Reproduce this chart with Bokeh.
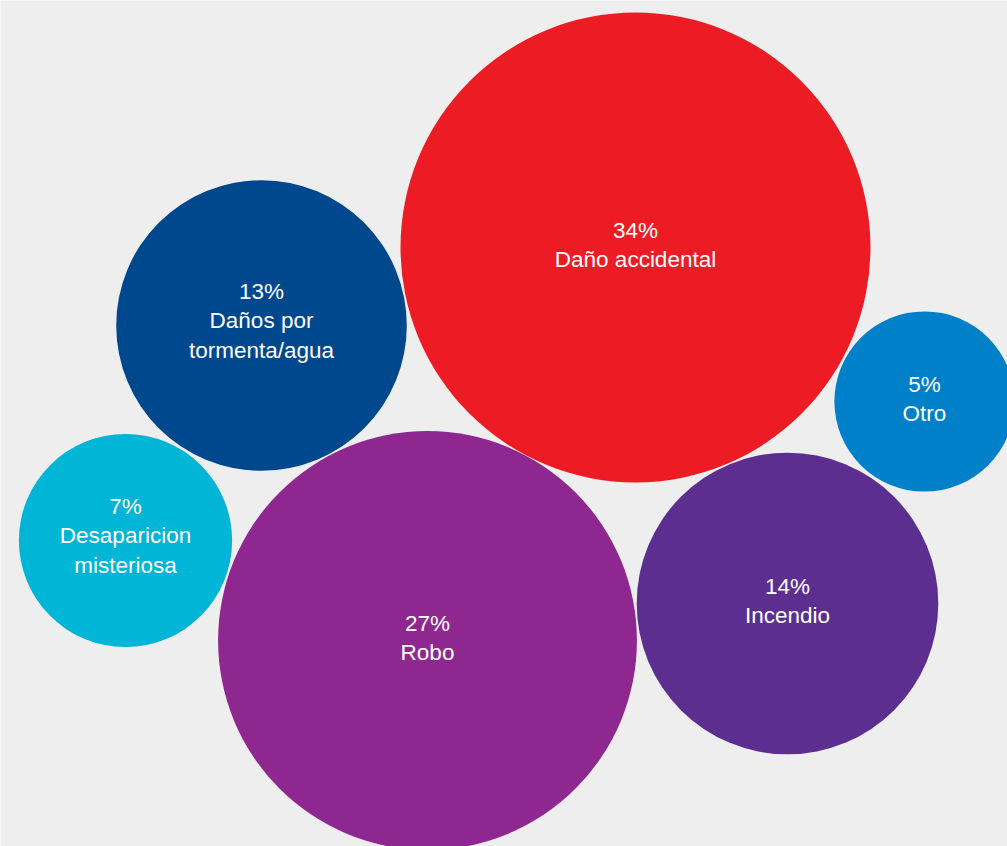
from bokeh.plotting import figure
from bokeh.models import ColumnDataSource, Range1d
from bokeh.core.properties import value
from bokeh.embed import file_html
from bokeh.resources import INLINE
import math

# ---- data ----
categories = ["Daño accidental", "Robo", "Incendio", "Daños por\ntormenta/agua",
              "Desaparicion\nmisteriosa", "Otro"]
values = [34, 27, 14, 13, 7, 5]

# ---- layout (bubble centres in page pixels) & style ----
centre_x = [635, 427, 787, 261, 125, 924]
centre_y = [247, 640, 603, 325, 540, 401]
colors = ["#ED1C24", "#8E278F", "#5B2E8F", "#00488E", "#00B5D6", "#0080C8"]
BG = "#EEEEEE"
SCALE = 235 / math.sqrt(34)   # px of radius per sqrt(percent)

W, H = 1007, 846
p = figure(width=W, height=H, output_backend="svg", toolbar_location=None,
           x_range=Range1d(0, W), y_range=Range1d(H, 0),
           min_border=0, background_fill_color=BG, border_fill_color=BG)
p.axis.visible = False
p.grid.visible = False
p.outline_line_color = None

radii = [SCALE * math.sqrt(v) for v in values]
src = ColumnDataSource(dict(x=centre_x, y=centre_y, r=radii, c=colors))
p.circle(x="x", y="y", radius="r", fill_color="c", line_color=None, source=src)

# text lines
tx, ty, tt = [], [], []
LINE = 29.5
for cat, v, cx, cy in zip(categories, values, centre_x, centre_y):
    lines = [f"{v}%"] + cat.split("\n")
    n = len(lines)
    for i, ln in enumerate(lines):
        tx.append(cx)
        ty.append(cy + (i - (n - 1) / 2) * LINE - (n - 1) * 2.5)
        tt.append(ln)

p.text(x=tx, y=ty, text=tt, text_color="white", text_font=value("Liberation Sans"),
       text_font_size="22.5px", text_align="center", text_baseline="middle")

html = file_html(p, INLINE)
open("out.html", "w").write(html)
